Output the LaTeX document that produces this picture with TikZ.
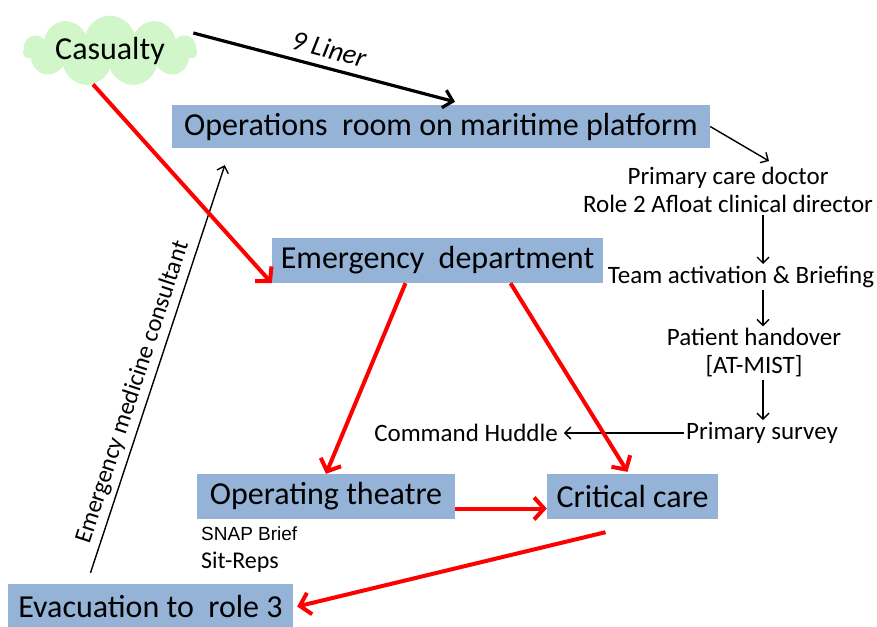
\documentclass[tikz,border=0pt]{standalone}
\usepackage{fontspec}
\setmainfont{Carlito}
\newfontfamily\arialfont{Liberation Sans}
\usetikzlibrary{shapes.symbols,arrows.meta}
\definecolor{boxblue}{RGB}{149,179,215}
\definecolor{cloudgreen}{RGB}{208,246,202}

\begin{document}
\begin{tikzpicture}[x=1pt,y=-1pt,
    box/.style={fill=boxblue,inner sep=0pt,font=\fontsize{32}{36}\selectfont},
    note/.style={font=\fontsize{25}{28}\selectfont,align=center,inner sep=2pt},
    redarrow/.style={red,line width=4pt,-{Straight Barb[length=10pt,width=22pt]}},
    blackarrow/.style={black,line width=1.4pt,-{Straight Barb[length=6pt,width=12pt]}}]
    \useasboundingbox (0,0) rectangle (877,626);

    % the casualty and the boxes
    \node[cloud,cloud puffs=11,cloud ignores aspect,fill=cloudgreen,minimum width=174pt,
        minimum height=70pt,inner sep=0pt,font=\fontsize{32}{36}\selectfont] (cas) at (110,51) {Casualty};
    \node[box,minimum width=538pt,minimum height=43pt] (ops) at (441,126.5) {Operations\ \ room on maritime platform};
    \node[box,minimum width=331pt,minimum height=45pt] (ed) at (437.5,260.5) {Emergency\ \ department};
    \node[box,minimum width=258pt,minimum height=45pt] (ot) at (326,496.5) {Operating theatre};
    \node[box,minimum width=171pt,minimum height=45pt] (cc) at (632.5,496.5) {Critical care};
    \node[box,minimum width=285pt,minimum height=45pt] (evac) at (150.5,606.5) {Evacuation to\ \ role 3};

    % the column on the right
    \coordinate (col) at (763,0);
    \node[note] (doc) at (728,190) {Primary care doctor\\Role 2 Afloat clinical director};
    \node[note] (act) at (741,277) {Team activation \& Briefing};
    \node[note] (hand) at (754,353) {Patient handover\\{[AT-MIST]}};
    \node[note] (survey) at (762,433) {Primary survey};
    \node[note] (huddle) at (466,433) {Command Huddle};

    \node[anchor=base west,inner sep=0pt,font=\arialfont\fontsize{19}{22}\selectfont] (snap) at (201,540) {SNAP Brief};
    \node[anchor=base west,inner sep=0pt,font=\fontsize{24}{28}\selectfont] (sitrep) at (201,568) {Sit-Reps};

    % black connectors
    \draw[black,line width=3.2pt,-{Straight Barb[length=9pt,width=18pt]}] ([xshift=-4pt,yshift=18pt]cas.east) -- ([xshift=14pt,yshift=3pt]ops.north)
        node[midway,above,sloped,inner sep=8pt,font=\itshape\fontsize{28}{30}\selectfont] {9 Liner};
    \draw[blackarrow] (ops.east) -- ([xshift=41pt,yshift=4pt]doc.north);
    \draw[blackarrow] (doc.south -| col) -- (act.north -| col);
    \draw[blackarrow] (act.south -| col) -- (hand.north -| col);
    \draw[blackarrow] (hand.south -| col) -- (survey.north -| col);
    \draw[blackarrow,shorten >=4pt] (survey.west) -- (huddle.east);
    \draw[blackarrow] ([xshift=-60pt,yshift=11pt]evac.north) -- ([xshift=53pt,yshift=-17pt]ops.south west)
        node[pos=0.43,above,sloped,inner sep=5pt,font=\fontsize{24.5}{28}\selectfont] {Emergency medicine consultant};

    % red connectors
    \draw[redarrow] (cas.243) -- (ed.south west);
    \draw[redarrow] ([xshift=-32pt]ed.south) -- (ot.north);
    \draw[redarrow] ([xshift=73pt]ed.south) -- ([xshift=-5pt,yshift=2pt]cc.north);
    \draw[redarrow] ([yshift=-12pt]ot.east) -- ([yshift=-12pt]cc.west);
    \draw[redarrow] ([xshift=-27pt,yshift=-13pt]cc.south) -- ([xshift=4pt]evac.east);
\end{tikzpicture}
\end{document}
